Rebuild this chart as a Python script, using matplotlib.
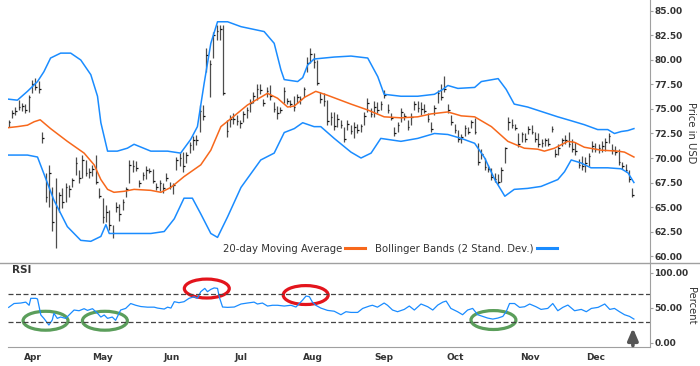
import numpy as np
import matplotlib
matplotlib.use("Agg")
import matplotlib.pyplot as plt
from matplotlib.patches import Ellipse
from matplotlib.lines import Line2D

# daily bars (trading-day index 0..186)
low = [73.2, 74.1, 74.4, 74.9, 74.8, 74.6, 74.7, 76.6, 76.9, 76.6,
       71.5, 65.5, 65.0, 62.6, 60.8, 64.5, 64.9, 65.5, 66.0, 67.0,
       68.3, 67.4, 68.0, 68.2, 68.0, 68.2, 67.3, 65.9, 63.4, 63.5,
       62.7, 61.8, 64.5, 63.6, 64.7, 66.0, 67.5, 68.6, 68.7, 67.0,
       67.8, 67.9, 68.5, 67.4, 66.7, 66.6, 66.4, 67.7, 66.8, 66.3,
       68.8, 69.2, 68.6, 69.5, 70.5, 70.8, 71.3, 72.7, 73.9, 78.8,
       76.2, 80.2, 82.0, 82.0, 76.4, 72.1, 73.2, 73.5, 73.4, 73.1,
       73.7, 74.1, 74.7, 75.6, 75.9, 76.5, 75.3, 76.2, 75.9, 74.7,
       74.0, 74.6, 75.6, 75.5, 75.2, 74.8, 75.6, 75.5, 76.2, 78.8,
       79.7, 79.2, 77.4, 75.6, 75.3, 73.4, 73.4, 72.9, 73.2, 73.1,
       71.6, 72.9, 72.4, 72.0, 72.6, 72.7, 73.4, 74.7, 74.2, 74.2,
       74.6, 74.9, 76.1, 74.6, 73.9, 72.2, 72.7, 73.7, 73.9, 72.9,
       73.4, 74.9, 74.7, 74.4, 74.6, 73.7, 72.7, 74.4, 75.6, 75.9,
       76.7, 74.6, 73.4, 72.6, 71.6, 71.5, 72.2, 72.4, 73.1, 72.4,
       69.3, 69.9, 68.8, 68.6, 67.8, 67.6, 67.3, 67.6, 69.5, 72.9,
       73.1, 72.9, 71.1, 71.6, 71.6, 72.4, 72.4, 71.6, 71.1, 71.1,
       71.2, 71.2, 72.7, 70.1, 70.3, 71.2, 71.4, 71.1, 70.6, 70.3,
       69.0, 68.8, 68.6, 69.2, 70.6, 70.6, 70.5, 70.6, 70.7, 71.5,
       70.4, 70.3, 69.3, 68.9, 68.6, 67.6, 66.0]
high = [73.9, 74.9, 75.2, 75.9, 75.6, 75.5, 76.4, 78.0, 78.2, 77.9,
        72.7, 68.5, 69.3, 67.0, 68.0, 66.5, 66.9, 67.5, 67.2, 68.0,
        70.1, 68.8, 70.3, 69.8, 69.0, 69.3, 70.3, 66.9, 65.9, 65.2,
        64.7, 63.2, 65.5, 65.3, 65.8, 67.0, 69.8, 69.8, 69.7, 67.8,
        68.6, 69.2, 69.0, 68.9, 67.5, 67.8, 67.4, 68.5, 67.6, 67.5,
        70.1, 70.5, 70.6, 70.6, 71.6, 72.2, 72.3, 75.4, 75.4, 81.2,
        80.0, 82.9, 83.6, 83.6, 83.6, 73.9, 74.4, 74.6, 74.4, 73.9,
        74.8, 75.2, 76.0, 76.7, 77.5, 77.6, 76.0, 77.2, 77.4, 75.7,
        75.3, 75.2, 77.2, 76.1, 75.9, 76.3, 76.5, 76.3, 77.2, 80.3,
        81.2, 80.7, 80.0, 76.7, 76.6, 75.9, 74.7, 74.7, 74.5, 73.9,
        73.2, 73.9, 73.4, 73.7, 73.5, 73.5, 74.7, 76.1, 75.1, 75.8,
        75.7, 75.8, 76.9, 75.5, 74.6, 73.2, 73.7, 75.1, 74.6, 73.9,
        74.6, 75.8, 75.8, 75.7, 75.5, 74.6, 73.7, 75.4, 76.9, 77.5,
        78.4, 75.5, 74.4, 73.5, 72.9, 72.4, 73.4, 73.2, 73.9, 74.1,
        71.5, 70.9, 70.0, 69.3, 69.0, 68.5, 68.4, 69.1, 71.1, 74.2,
        74.0, 73.5, 72.5, 72.7, 72.5, 73.3, 73.4, 72.7, 72.5, 71.9,
        72.0, 72.0, 73.3, 70.9, 71.4, 72.0, 72.3, 72.7, 71.9, 71.6,
        69.9, 70.2, 70.1, 70.5, 71.7, 71.5, 71.4, 71.7, 72.0, 72.5,
        71.4, 71.2, 70.9, 69.6, 69.4, 68.8, 66.9]
close = [73.7, 74.6, 74.8, 75.2, 75.3, 74.9, 76.2, 77.6, 77.2, 77.0,
         72.0, 66.0, 68.5, 63.5, 65.0, 66.2, 65.5, 67.0, 66.8, 67.8,
         69.5, 68.0, 69.8, 68.5, 68.6, 68.9, 67.6, 66.1, 64.0, 64.5,
         63.2, 62.3, 65.0, 64.3, 65.5, 66.8, 69.3, 69.2, 69.0, 67.4,
         68.3, 68.8, 68.7, 67.7, 67.0, 67.4, 66.9, 68.0, 67.1, 67.2,
         69.8, 70.0, 69.2, 70.3, 71.3, 71.8, 71.8, 74.8, 74.3, 80.5,
         79.6, 82.5, 83.0, 83.2, 76.6, 72.8, 74.0, 74.0, 73.8, 73.6,
         74.5, 74.9, 75.6, 76.3, 77.0, 76.9, 75.6, 76.8, 76.3, 75.0,
         74.6, 74.9, 76.8, 75.8, 75.5, 75.2, 76.2, 76.0, 77.0, 79.7,
         80.6, 79.8, 77.7, 76.0, 75.8, 73.8, 74.2, 73.3, 74.0, 73.4,
         71.9, 73.5, 72.8, 73.2, 72.9, 73.3, 74.3, 75.6, 74.5, 75.2,
         74.9, 75.5, 76.4, 74.9, 74.1, 72.6, 73.4, 74.7, 74.3, 73.2,
         74.2, 75.5, 75.1, 75.0, 74.8, 74.0, 73.0, 75.1, 76.6, 76.2,
         77.0, 74.9, 73.7, 72.9, 71.9, 72.1, 73.1, 72.7, 73.7, 72.7,
         69.6, 70.4, 69.1, 68.9, 68.1, 67.9, 67.6, 68.8, 71.0, 73.7,
         73.4, 73.1, 71.4, 72.4, 71.9, 73.0, 72.7, 71.9, 71.4, 71.5,
         71.8, 71.4, 73.0, 70.4, 71.0, 71.8, 71.8, 71.4, 70.9, 70.7,
         69.3, 69.2, 69.5, 70.2, 71.2, 70.9, 71.0, 71.2, 71.6, 72.2,
         70.8, 70.6, 69.6, 69.2, 68.8, 67.9, 66.2]

# 20-day moving average and Bollinger bands
ma_day = [0, 2.6, 5.6, 7.6, 9.4, 12.5, 17.5, 22.5, 25.5, 27.5, 29.5, 31.4, 34.4,
          37.4, 42.4, 45.4, 48.4, 52.3, 57.3, 60.3, 63.3, 67.3, 71.2, 75.2, 77.2,
          80.2, 83.2, 85.2, 88.3, 91.6, 95.1, 102.1, 107.1, 112, 117, 122, 126,
          131, 135, 139, 144, 148.9, 153.8, 157.8, 159.8, 162.8, 166.8, 168.8,
          171.7, 176.7, 181.7, 183.7, 186.5]
ma_val = [73.1, 73.2, 73.35, 73.7, 73.9, 73.0, 71.7, 70.5, 69.3, 67.8, 66.8, 66.5,
          66.6, 66.8, 66.7, 66.5, 67.0, 68.1, 69.3, 70.8, 73.2, 74.3, 75.4, 76.2,
          76.6, 76.1, 75.2, 75.3, 76.2, 76.8, 76.4, 75.5, 74.9, 74.2, 74.1, 74.2,
          74.5, 74.7, 74.3, 74.2, 73.2, 71.7, 71.0, 70.9, 70.7, 71.0, 71.7, 71.6,
          71.1, 70.8, 70.7, 70.6, 70.1]
upper_day = [0, 2.6, 5.6, 8.6, 10.5, 12.5, 15.5, 18.5, 21.5, 24.5, 26.5, 27.5,
             29.5, 32.4, 35.4, 37.4, 42.4, 47.4, 51.3, 54.3, 56.3, 58.3, 60.3,
             62.3, 65.3, 69.3, 76.2, 79.2, 81.2, 82.2, 86.2, 87.7, 89.2, 91.1,
             97.1, 102.1, 107.1, 110.1, 112, 117, 122, 127, 129.5, 131, 134, 139,
             141, 146, 148.4, 150.8, 154.8, 159.3, 163.8, 167.8, 171.7, 175.7,
             178.7, 180.7, 182.7, 184.7, 186.5]
upper_val = [76.0, 75.9, 76.8, 77.8, 78.8, 80.2, 80.7, 80.7, 80.0, 78.5, 76.3, 73.6,
             70.7, 70.7, 71.0, 71.4, 70.7, 70.7, 70.5, 71.9, 73.2, 77.6, 81.7,
             83.9, 83.9, 83.4, 82.9, 81.7, 79.0, 78.0, 77.8, 78.2, 79.5, 80.1,
             80.3, 80.4, 80.2, 78.3, 76.5, 76.3, 76.3, 76.5, 77.0, 77.4, 77.1, 77.2,
             77.8, 78.1, 77.0, 75.5, 75.2, 74.7, 74.2, 73.8, 73.4, 72.9,
             72.9, 72.5, 72.7, 72.8, 73.0]
lower_day = [0, 5.6, 8.6, 10.5, 13.5, 17.5, 21.5, 24.5, 27.5, 29, 30, 32.4, 42.4,
             46.4, 49.4, 52.3, 54.8, 57.3, 60.3, 62.3, 65.3, 69.3, 75.2, 79.2,
             82.2, 85.2, 87.7, 91.1, 93.1, 97.1, 102.1, 105.1, 108.1, 111, 117,
             122, 127, 131, 135, 139, 142, 145, 148, 150.8, 154.8, 158.8, 163.8,
             165.8, 167.8, 170.7, 173.7, 178.7, 182.7, 184.7, 186.5]
lower_val = [70.3, 70.3, 70.1, 68.4, 65.7, 63.0, 61.6, 61.5, 62.0, 63.2, 62.3, 62.3,
             62.3, 62.5, 63.8, 65.9, 65.9, 64.3, 62.3, 61.9, 64.0, 67.0, 69.8, 70.5,
             72.6, 73.0, 73.6, 73.2, 73.2, 72.0, 70.6, 70.0, 70.5, 72.0, 71.7,
             72.0, 72.5, 72.4, 72.0, 71.5, 70.0, 67.8, 66.1, 66.8, 66.9, 67.1, 67.8,
             68.6, 69.8, 69.5, 69.0, 69.0, 68.9, 68.5, 67.5]

# RSI
rsi_day = [0, 1.6, 3.6, 5.1, 6.1, 6.6, 8.1, 8.6, 9.6, 10.5, 12.0, 13.0, 13.5, 14.5,
           15.5, 17.0, 18.5, 19.5, 21.0, 22.5, 23.5, 25.0, 26.5, 27.5, 28.5, 29.5,
           30.9, 31.9, 33.4, 34.9, 36.4, 37.9, 39.4, 41.4, 43.4, 44.4, 46.4, 47.4,
           48.4, 49.4, 50.8, 52.3, 53.8, 55.3, 56.3, 57.3, 58.5, 59.3, 60.3, 61.3,
           62.3, 62.8, 63.8, 65.3, 67.3, 69.3, 71.2, 73.2, 74.2, 75.7, 77.2, 78.7,
           80.2, 82.2, 84.2, 85.7, 86.7, 87.7, 88.7, 89.7, 90.6, 91.6, 93.1, 95.1,
           97.1, 99.1, 100.6, 102.1, 104.1, 105.6, 107.6, 108.5, 110, 112, 113,
           114.5, 116, 118, 119.5, 121, 123, 125, 126.5, 128, 129.5, 130.5, 131.9,
           133.9, 135.4, 136.9, 138.4, 139.9, 141.4, 142.9, 144.4, 145.9, 147.4,
           148.4, 149.4, 150.9, 152.4, 153.9, 155.4, 157.3, 158.8, 160.8, 162.3,
           163.8, 165.3, 166.8, 168.8, 170.8, 172.3, 173.8, 175.8, 177.8, 179.3,
           180.7, 182.2, 183.7, 185.2, 186.5]
rsi_val = [50.5, 56, 56.7, 58, 53.5, 63.4, 63.4, 62.5, 39.6, 34.8, 25.3, 32.4, 42,
           34.8, 36.7, 34.8, 42, 46.7, 45.7, 48.6, 46.2, 48.6, 42, 36.7, 39.6, 34.8,
           36.7, 32, 46.7, 49, 56, 53.5, 51.7, 50.8, 50.8, 49.5, 48.1, 50.8, 49.5,
           58.6, 57.2, 58.6, 63.4, 65.7, 63.4, 72.9, 77.6, 72.9, 76.2, 78.3, 77.6,
           65.7, 51, 50.5, 51, 55.3, 56.7, 58, 55.3, 56.7, 52.4, 53.5, 53.5, 52.4,
           53.5, 51, 56, 61, 66.7, 65.7, 58, 53.5, 49.5, 46.2, 45, 40, 44.3, 43.3,
           43.3, 49, 52.4, 53.5, 50.8, 56.7, 53.5, 46.7, 44.3, 47.6, 52.4, 46.7,
           55.3, 51.4, 46.7, 53.8, 58, 59.5, 49, 44.3, 40, 46.7, 49, 40, 37.6, 35.2,
           33.8, 35.2, 37.6, 44.3, 56, 56, 50.5, 51.4, 55.3, 51.4, 47.6, 49, 56,
           45.7, 50.5, 53.8, 45.7, 47.6, 44.3, 49, 50.5, 55.3, 47.6, 49, 44.3, 40,
           37.6, 33.8]

months = ["Apr", "May", "Jun", "Jul", "Aug", "Sep", "Oct", "Nov", "Dec"]
month_day = [7.3, 28.1, 48.7, 69.3, 90.8, 112, 133.2, 155.5, 175.2]

# highlighted RSI zones: (day, rsi, colour)
marks = [(11.0, 31.4, "#5b9e5b"), (28.7, 31.4, "#5b9e5b"), (59.1, 77.4, "#e3141c"),
         (88.6, 68.1, "#e3141c"), (144.6, 32.4, "#5b9e5b")]

ORANGE = "#f7681c"
BLUE = "#1a8cff"
GREY = "#a0a0a0"
TXT = "#333333"

fig = plt.figure(figsize=(7, 3.66), dpi=100)
W, H = 700, 366
ax = fig.add_axes([8 / W, 1 - 262 / H, 642 / W, 262 / H])
ax2 = fig.add_axes([8 / W, 1 - 347 / H, 642 / W, (347 - 262.7) / H])

days = np.arange(len(close))
ax.vlines(days, low, high, color="#4d4d4d", lw=0.9)
ax.hlines(close, days, days + 0.5, color="#111111", lw=0.9)
ax.plot(ma_day, ma_val, color=ORANGE, lw=1.1)
ax.plot(upper_day, upper_val, color=BLUE, lw=1.1)
ax.plot(lower_day, lower_val, color=BLUE, lw=1.1)

xlim = (-0.2, 191.3)
ax.set_xlim(*xlim)
ax.set_ylim(59.39, 86.12)
ax.set_xticks([])
ax.yaxis.tick_right()
ax.set_yticks(np.arange(60, 85.1, 2.5))
ax.set_yticklabels(["%.2f" % v for v in np.arange(60, 85.1, 2.5)])
for s in ["top", "left", "bottom"]:
    ax.spines[s].set_visible(False)
ax.spines["right"].set_color(GREY)
ax.tick_params(axis="y", length=2, color=GREY, labelcolor=TXT, labelsize=6.5, pad=1)
for t in ax.get_yticklabels():
    t.set_fontweight("bold")

handles = [Line2D([], [], color=ORANGE, lw=2.2), Line2D([], [], color=BLUE, lw=2.2)]
ax.legend(handles, ["20-day Moving Average", "Bollinger Bands (2 Stand. Dev.)"],
          loc="center", bbox_to_anchor=(0.595, 0.05), ncol=2, frameon=False,
          markerfirst=False, fontsize=7.3, handlelength=2.0, handletextpad=0.3,
          columnspacing=1.0, labelcolor=TXT)

# RSI panel
ax2.plot(rsi_day, rsi_val, color=BLUE, lw=0.9)
ax2.axhline(70, color="#444444", ls=(0, (4, 2)), lw=0.9)
ax2.axhline(30, color="#444444", ls=(0, (4, 2)), lw=0.9)
for d, r, c in marks:
    ax2.add_patch(Ellipse((d, r), 13.4, 27, fill=False, ec=c, lw=2.3, clip_on=False))
ax2.annotate("", xy=(186.2, 25), xytext=(186.2, -8),
             arrowprops=dict(arrowstyle="-|>,head_width=0.3,head_length=0.7",
                             lw=2.6, color="#555555"), annotation_clip=False)
ax2.set_xlim(*xlim)
ax2.set_ylim(-6.1, 114.3)
ax2.set_xticks(month_day)
ax2.set_xticklabels(months)
ax2.yaxis.tick_right()
ax2.set_yticks([0, 50, 100])
ax2.set_yticklabels(["0.00", "50.00", "100.00"])
for s in ["top", "left"]:
    ax2.spines[s].set_visible(False)
ax2.spines["right"].set_color(GREY)
ax2.spines["bottom"].set_color(GREY)
ax2.tick_params(axis="x", length=0, labelcolor=TXT, labelsize=6.5, pad=4)
ax2.tick_params(axis="y", length=2, color=GREY, labelcolor=TXT, labelsize=6.5, pad=1)
for t in ax2.get_xticklabels() + ax2.get_yticklabels():
    t.set_fontweight("bold")

fig.add_artist(Line2D([0, 1], [1 - 262.5 / H] * 2, color=GREY, lw=1,
                      transform=fig.transFigure))
fig.text(12 / W, 1 - 270 / H, "RSI", fontsize=7.5, fontweight="bold",
         color=TXT, va="center", ha="left")
fig.text(691 / W, 1 - 133 / H, "Price in USD", rotation=-90, fontsize=7.2,
         color=TXT, va="center", ha="center")
fig.text(691 / W, 1 - 306 / H, "Percent", rotation=-90, fontsize=7.2,
         color=TXT, va="center", ha="center")

fig.savefig("out.png", dpi=100)
